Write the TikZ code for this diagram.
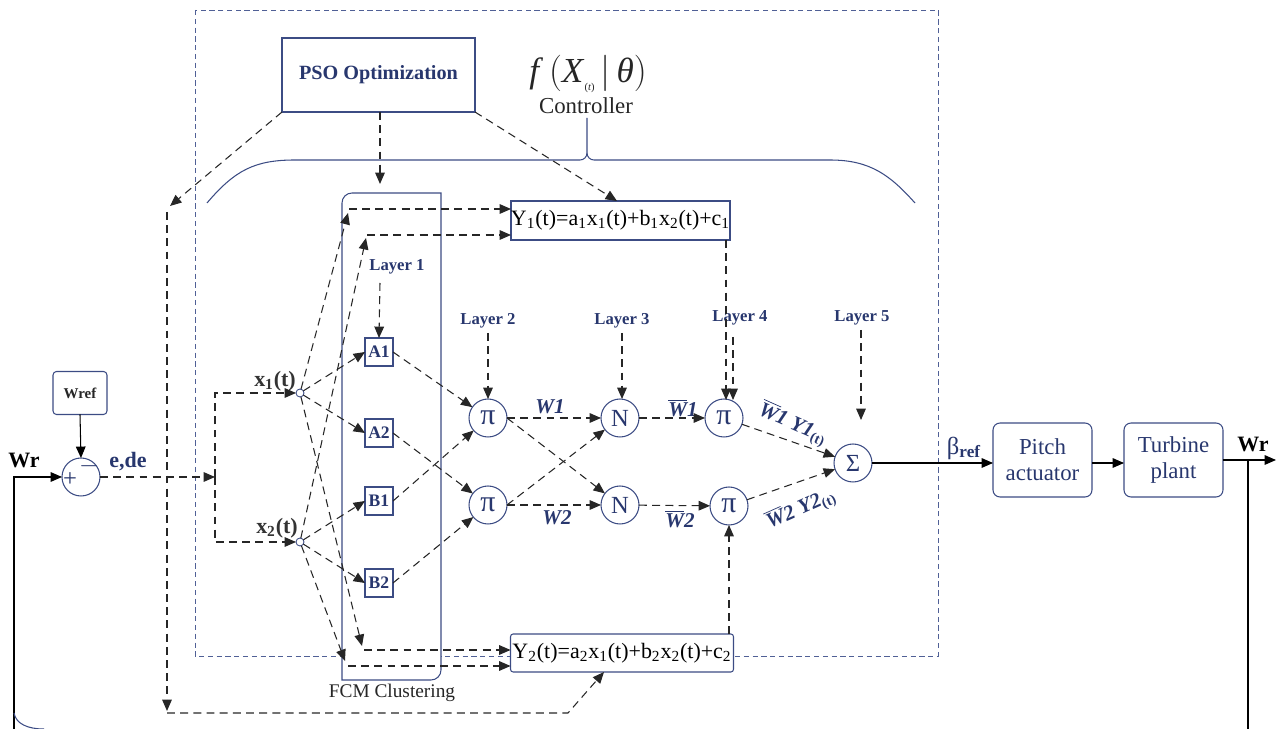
\documentclass[tikz,border=0pt]{standalone}
\usepackage{fontspec}
\setmainfont{LiberationSerif}[Extension=.ttf,UprightFont=*-Regular,BoldFont=*-Bold,ItalicFont=*-Italic,BoldItalicFont=*-BoldItalic]
\usetikzlibrary{arrows.meta}
\definecolor{dblue}{RGB}{40,55,110}
\definecolor{bblue}{RGB}{60,76,132}
\definecolor{cblue}{RGB}{80,96,150}
\begin{document}
\begin{tikzpicture}[x=0.02cm,y=-0.02cm,
  every node/.style={inner sep=0pt, outer sep=0pt},
  arr/.style={-{Triangle[length=6.5pt,width=5.5pt]}},
  dsh/.style={dash pattern=on 4.5pt off 3pt, line width=0.6pt, black!85},
  sol/.style={line width=0.6pt, black},
  blk/.style={draw=bblue, line width=0.6pt, fill=white},
  circ/.style={circle, draw=bblue, line width=0.6pt, fill=white, minimum size=0.76cm, text=dblue},
  mbox/.style={draw=bblue, line width=0.6pt, fill=white, minimum size=0.56cm, text=dblue, font=\bfseries\fontsize{10}{10}\selectfont},
  lay/.style={text=dblue, font=\bfseries\fontsize{9.5}{10}\selectfont},
  wl/.style={text=dblue, font=\bfseries\itshape\fontsize{12}{12}\selectfont},
  big/.style={font=\bfseries\fontsize{12.5}{12.5}\selectfont},
]
\useasboundingbox (0,0) rectangle (1276,729);

% controller frame
\draw[cblue, dash pattern=on 3pt off 2pt, line width=0.5pt] (195,10) rectangle (938,656);

% brace
\draw[bblue, line width=0.6pt] (207,203) .. controls (235,170) and (255,160) .. (295,160)
  -- (580,160) to[out=0,in=-90] (587,153) -- (587,118);
\draw[bblue, line width=0.6pt] (587,153) to[out=-90,in=180] (594,160) -- (830,160)
  .. controls (870,160) and (890,175) .. (915,203);
\node[font=\fontsize{20}{20}\selectfont, text=black!85] (fx) at (588,74) {\textit{f}\,$\Big($\textit{X}\raisebox{-0.5ex}{\fontsize{6}{6}\selectfont(\textit{t})}\,$|$\,\textit{θ}$\Big)$};
\node[font=\fontsize{13}{13}\selectfont, text=black!85] (ctl) at (586,106) {Controller};

% FCM box
\draw[bblue, line width=0.6pt, fill=white] (441,193) -- (352,193) to[out=180,in=90] (342,203)
  -- (342,680) -- (431,680) to[out=0,in=-90] (441,670) -- cycle;
\node[font=\fontsize{11}{11}\selectfont, text=black!85] (fcml) at (392,693) {FCM Clustering};

% blocks
\node[blk, minimum width=3.86cm, minimum height=1.48cm, text=dblue, font=\bfseries\fontsize{11.5}{12}\selectfont] (pso) at (378.5,75) {PSO Optimization};
\node[blk, minimum width=4.3cm, minimum height=0.78cm, font=\fontsize{12.5}{13}\selectfont] (y1) at (620.5,220.5) {Y\textsubscript{1}(t)=a\textsubscript{1}x\textsubscript{1}(t)+b\textsubscript{1}x\textsubscript{2}(t)+c\textsubscript{1}};
\node[blk, rounded corners=1.5pt, minimum width=4.46cm, minimum height=0.76cm, font=\fontsize{12.5}{13}\selectfont] (y2) at (622,653) {Y\textsubscript{2}(t)=a\textsubscript{2}x\textsubscript{1}(t)+b\textsubscript{2}x\textsubscript{2}(t)+c\textsubscript{2}};
\node[blk, rounded corners=2pt, minimum width=1.08cm, minimum height=0.86cm, text=black!85, font=\bfseries\fontsize{8.5}{9}\selectfont] (wref) at (80,393) {Wref};
\node[circ, minimum size=0.76cm] (sum) at (81,477) {};
\node[text=dblue, font=\fontsize{14}{14}\selectfont] (plus) at (70,480) {+};
\node[text=dblue, font=\fontsize{14}{14}\selectfont] (minus) at (89,466) {$-$};
\node[blk, rounded corners=4pt, minimum width=1.98cm, minimum height=1.48cm, text=dblue, align=center, font=\fontsize{13}{15}\selectfont] (pitch) at (1042.5,460) {Pitch\\actuator};
\node[blk, rounded corners=4pt, minimum width=1.98cm, minimum height=1.48cm, text=dblue, align=center, font=\fontsize{13}{15}\selectfont] (turb) at (1173.5,460) {Turbine\\plant};

% inputs
\node[circle, draw=bblue, fill=white, minimum size=0.16cm, line width=0.5pt] (x1) at (300,393) {};
\node[circle, draw=bblue, fill=white, minimum size=0.16cm, line width=0.5pt] (x2) at (300,542) {};
\node[big, text=black!80] (x1l) at (275,381) {x\textsubscript{1}(t)};
\node[big, text=black!80] (x2l) at (277,528) {x\textsubscript{2}(t)};

\node[mbox] (a1) at (379,352) {A1};
\node[mbox] (a2) at (379,433) {A2};
\node[mbox] (b1) at (379,501) {B1};
\node[mbox] (b2) at (379,583) {B2};

\node[circ, font=\fontsize{17}{17}\selectfont] (p1) at (488,418) {π};
\node[circ, font=\fontsize{17}{17}\selectfont] (p2) at (488,505) {π};
\node[circ, font=\fontsize{14}{14}\selectfont] (n1) at (620,418) {N};
\node[circ, font=\fontsize{14}{14}\selectfont] (n2) at (620,505) {N};
\node[circ, font=\fontsize{17}{17}\selectfont] (q1) at (724,418) {π};
\node[circ, font=\fontsize{17}{17}\selectfont] (q2) at (729,506) {π};
\node[circ, font=\fontsize{14}{14}\selectfont] (sig) at (853,463) {Σ};

% layer labels
\node[lay] (l1) at (397,267) {Layer 1};
\node[lay] (l2) at (488,321) {Layer 2};
\node[lay] (l3) at (622,321) {Layer 3};
\node[lay] (l4) at (740,318) {Layer 4};
\node[lay] (l5) at (862,318) {Layer 5};
\draw[dsh,arr] (380,283) -- (a1.north);
\draw[dsh,arr] (488,333) -- (p1.north);
\draw[dsh,arr] (622,333) -- (n1.north -| 622,0);
\draw[dsh,arr] (733,337) -- (733,400);
\draw[dsh,arr] (861,330) -- (861,420);

% other labels
\node[big] (wrl) at (24,460) {Wr};
\node[big, text=dblue] (ede) at (128,462) {e,de};
\node[wl] (w1) at (550,407) {W1};
\node[wl] (w2) at (557,518) {W2};
\node[wl] (w1b) at (683,408) {$\overline{\mbox{W}}$1};
\node[wl] (w2b) at (680,519) {$\overline{\mbox{W}}$2};
\node[wl, rotate=-24] (q1l) at (793,424) {$\overline{\mbox{W}}$1 Y1\textsubscript{\upshape(t)}};
\node[wl, rotate=24] (q2l) at (801,509) {$\overline{\mbox{W}}$2 Y2\textsubscript{\upshape(t)}};
\node[font=\fontsize{14}{14}\selectfont, text=dblue] (beta) at (964,448) {β\textsubscript{\bfseries ref}};
\node[big] (wrr) at (1253,444) {Wr};

% input path
\coordinate (j) at (215,477);
\draw[sol,arr] (wref.south) -- (sum.north);
\draw[dsh,arr] (sum.east) -- (j);
\draw[dsh,arr] (j) |- (x1.west);
\draw[dsh,arr] (j) |- (x2.west);

% membership
\draw[dsh,arr] (x1) -- (a1.west);
\draw[dsh,arr] (x1) -- (a2.west);
\draw[dsh,arr] (x2) -- (b1.west);
\draw[dsh,arr] (x2) -- (b2.west);

% to consequents
\draw[dsh,arr] (x1) -- (348,213);
\draw[dsh,arr] (349,209) -- (y1.west |- 0,209);
\draw[dsh,arr] (x2) -- (366,238);
\draw[dsh,arr] (367,235) -- (y1.west |- 0,235);
\draw[dsh,arr] (x1) -- (362,646);
\draw[dsh,arr] (364,650) -- (y2.west |- 0,650);
\draw[dsh,arr] (x2) -- (345,661);
\draw[dsh,arr] (348,666) -- (y2.west |- 0,666);

% layers
\draw[dsh,arr] (a1.east) -- (p1);
\draw[dsh,arr] (b1.east) -- (p1);
\draw[dsh,arr] (a2.east) -- (p2);
\draw[dsh,arr] (b2.east) -- (p2);
\draw[dsh,arr] (p1) -- (n1);
\draw[dsh,arr] (p1.east) -- (n2);
\draw[dsh,arr] (p2.east) -- (n1);
\draw[dsh,arr] (p2) -- (n2);
\draw[dsh,arr] (n1) -- (q1);
\draw[dsh,arr] (n2) -- (q2);
\draw[dsh,arr] (q1) -- (sig);
\draw[dsh,arr] (q2) -- (sig);
\draw[dsh,arr] (y1.south -| 726,0) -- (726,400);
\draw[dsh,arr] (y2.north -| 729,0) -- (q2.south);

% PSO links
\draw[dsh,arr] (pso.south -| 380,0) -- (380,184);
\draw[dsh,arr] (pso.south east) -- (y1.north -| 617,0);
\draw[dsh,arr] (pso.south west) -- (170,206);
\draw[dsh,arr] (167,212) -- (167,711);
\draw[dsh,arr] (167,713) -- (568,713) -- (y2.south -| 604,0);

% plant
\coordinate (out) at (1276,460);
\draw[sol,arr] (sig.east) -- (sig.east -| pitch.west);
\draw[sol,arr] (pitch.east |- 0,463) -- (turb.west |- 0,463);
\draw[sol,arr] (turb.east) -- (out);
\draw[sol] (1248,460) -- (1248,729);
\draw[sol,arr] (14,729) -- (14,477) -- (sum.west);
\draw[bblue, line width=0.6pt] (14,713) .. controls (16,724) and (28,729) .. (44,729);
\end{tikzpicture}
\end{document}
